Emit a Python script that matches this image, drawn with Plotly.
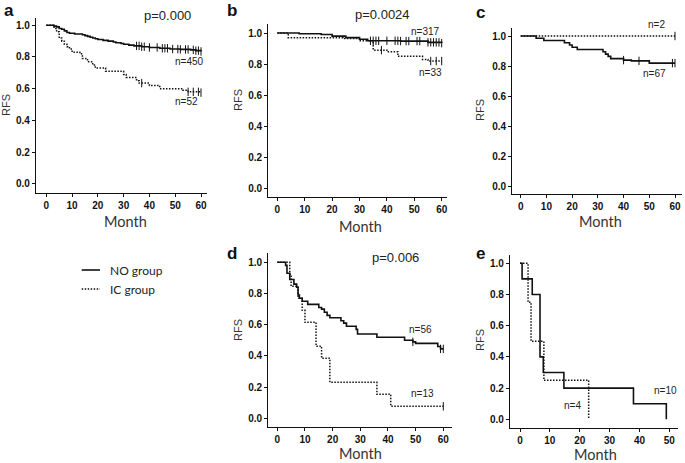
import plotly.graph_objects as go

# ---------------- data ----------------
# Panel a
a_no_t = [0, 3, 4, 5, 6, 7, 8, 9, 11, 14, 15, 16, 17, 18, 19, 20, 22, 24, 26, 27, 29, 30, 32, 34, 37, 40, 44, 48, 52, 56, 58, 60]
a_no_s = [1.0, 0.995, 0.99, 0.98, 0.975, 0.965, 0.955, 0.95, 0.945, 0.94, 0.935, 0.93, 0.925, 0.92, 0.915, 0.91, 0.905, 0.90, 0.895, 0.89, 0.885, 0.88, 0.875, 0.87, 0.865, 0.86, 0.855, 0.85, 0.848, 0.845, 0.84, 0.835]
a_no_c = [35, 36, 37, 38, 40, 43, 45, 46, 47, 49, 51, 52, 54, 55, 57, 58, 59, 60]
a_ic_t = [0, 3, 4, 5, 6, 7, 8, 9, 10, 13, 14, 16, 18, 19, 23, 30, 31, 35, 36, 40, 44, 53, 55, 60]
a_ic_s = [1.0, 0.98, 0.96, 0.92, 0.90, 0.88, 0.865, 0.85, 0.83, 0.82, 0.79, 0.77, 0.75, 0.73, 0.71, 0.69, 0.67, 0.65, 0.635, 0.62, 0.60, 0.59, 0.58, 0.575]
a_ic_c = [37, 55, 57, 59, 60]

# Panel b
b_no_t = [0, 8, 16, 20, 25, 30, 33, 45, 55, 60]
b_no_s = [1.0, 0.995, 0.99, 0.98, 0.97, 0.96, 0.95, 0.948, 0.94, 0.935]
b_no_c = [34, 35, 36, 37, 40, 43, 44, 45, 47, 48, 51, 52, 55, 56, 57, 58, 59, 60]
b_ic_t = [0, 4, 24, 30, 35, 40, 44, 53, 55, 60]
b_ic_s = [1.0, 0.97, 0.965, 0.95, 0.89, 0.88, 0.85, 0.83, 0.82, 0.82]
b_ic_c = [38, 56, 58, 60]

# Panel c
c_no_t = [0, 6, 9, 17, 19, 20, 22, 32, 33, 34, 35, 40, 43, 50, 60]
c_no_s = [1.0, 0.985, 0.97, 0.955, 0.94, 0.925, 0.91, 0.895, 0.88, 0.865, 0.85, 0.84, 0.835, 0.82, 0.82]
c_no_c = [40, 46, 59, 60]
c_ic_t = [0, 60]
c_ic_s = [1.0, 1.0]
c_ic_c = [60]

# Panel d
d_no_t = [0, 3, 3.5, 4.5, 6, 7, 7.5, 8, 9, 11, 15, 16, 17, 18, 19, 23, 24, 25, 28.5, 29, 36, 46, 49, 50, 58, 59, 60]
d_no_s = [1.0, 0.98, 0.93, 0.89, 0.86, 0.84, 0.79, 0.77, 0.75, 0.73, 0.71, 0.70, 0.68, 0.66, 0.645, 0.625, 0.61, 0.59, 0.57, 0.54, 0.52, 0.50, 0.49, 0.48, 0.46, 0.445, 0.445]
d_no_c = [49, 59, 60]
d_ic_t = [0, 4.5, 5, 7.5, 9, 10, 14, 16, 19, 36, 41, 60]
d_ic_s = [1.0, 0.923, 0.846, 0.769, 0.692, 0.615, 0.462, 0.385, 0.231, 0.154, 0.077, 0.077]
d_ic_c = [60]

# Panel e
e_no_t = [0, 0.7, 4.1, 6.7, 7.8, 14.7, 38, 49]
e_no_s = [1.0, 0.9, 0.8, 0.4, 0.3, 0.2, 0.1, 0.0]
e_ic_t = [0, 2.7, 3.7, 8.0, 23]
e_ic_s = [1.0, 0.75, 0.5, 0.25, 0.0]

p_values = {"a": "p=0.000", "b": "p=0.0024", "d": "p=0.006"}
n_labels = {"a": ["n=450", "n=52"], "b": ["n=317", "n=33"], "c": ["n=67", "n=2"],
            "d": ["n=56", "n=13"], "e": ["n=10", "n=4"]}
group_names = ["NO group", "IC group"]
y_ticks = [0.0, 0.2, 0.4, 0.6, 0.8, 1.0]

# ---------------- layout geometry (pixels) ----------------
W, H = 685, 463


def fx(p):
    return p / W


def fy(p):
    return 1 - p / H


# left, right, top, bottom, x0px, x0val, x1px, x1val, y1px(1.0), y0px(0.0)
geo = {
    "a": (36, 207, 18, 192.7, 46.3, 0, 201, 60, 25.3, 183.7),
    "b": (268.3, 446.7, 24, 196.7, 277.3, 0, 441.7, 60, 33, 188.7),
    "c": (512.3, 681.7, 28.3, 194.3, 520.7, 0, 675, 60, 36, 186.7),
    "d": (268.3, 451.7, 253.3, 426.7, 277.3, 0, 443.3, 60, 262.3, 418.3),
    "e": (510, 678.3, 255, 428.3, 520, 0, 669.3, 50, 263.3, 419.3),
}
xticks = {"a": list(range(0, 61, 10)), "b": list(range(0, 61, 10)), "c": list(range(0, 61, 10)),
          "d": list(range(0, 61, 10)), "e": list(range(0, 51, 10))}

panels = {
    "a": [(a_no_t, a_no_s, a_no_c), (a_ic_t, a_ic_s, a_ic_c)],
    "b": [(b_no_t, b_no_s, b_no_c), (b_ic_t, b_ic_s, b_ic_c)],
    "c": [(c_no_t, c_no_s, c_no_c), (c_ic_t, c_ic_s, c_ic_c)],
    "d": [(d_no_t, d_no_s, d_no_c), (d_ic_t, d_ic_s, d_ic_c)],
    "e": [(e_no_t, e_no_s, []), (e_ic_t, e_ic_s, [])],
}

INK = "#111111"
DOT = "1.5px,1.5px"
tickfont = dict(family="Liberation Sans, Arial, sans-serif", size=10, color=INK, weight="bold")
textfont = "Liberation Sans, Arial, sans-serif"


def step_at(ts, ss, t):
    v = ss[0]
    for ti, si in zip(ts, ss):
        if ti <= t:
            v = si
    return v


fig = go.Figure()
layout = {}
annotations = []

for i, key in enumerate(["a", "b", "c", "d", "e"]):
    left, right, top, bottom, x0p, x0v, x1p, x1v, y1p, y0p = geo[key]
    sx = (x1p - x0p) / (x1v - x0v)
    sy = (y0p - y1p)
    xr = [x0v + (left - x0p) / sx, x0v + (right - x0p) / sx]
    yr = [(y0p - bottom) / sy, (y0p - top) / sy]
    sfx = "" if i == 0 else str(i + 1)
    xa, ya = "x" + sfx, "y" + sfx
    layout["xaxis" + sfx] = dict(domain=[fx(left), fx(right)], range=xr, anchor=ya,
                                 showline=True, linecolor=INK, linewidth=1.2, showgrid=False,
                                 zeroline=False, ticks="outside", ticklen=3, tickwidth=1,
                                 tickcolor=INK, tickvals=xticks[key], tickfont=tickfont,
                                 fixedrange=True)
    layout["yaxis" + sfx] = dict(domain=[fy(bottom), fy(top)], range=yr, anchor=xa,
                                 showline=True, linecolor=INK, linewidth=1.2, showgrid=False,
                                 zeroline=False, ticks="outside", ticklen=3, tickwidth=1,
                                 tickcolor=INK, tickvals=y_ticks, tickformat=".1f",
                                 tickfont=tickfont, fixedrange=True)
    for g, (ts, ss, cs) in enumerate(panels[key]):
        dash = "solid" if g == 0 else DOT
        fig.add_trace(go.Scatter(x=ts, y=ss, mode="lines", line_shape="hv",
                                 line=dict(color=INK, width=1.6 if g == 0 else 1.5, dash=dash),
                                 xaxis=xa, yaxis=ya, showlegend=False, name=group_names[g],
                                 hoverinfo="skip"))
        if cs:
            fig.add_trace(go.Scatter(x=cs, y=[step_at(ts, ss, c) for c in cs], mode="markers",
                                     marker=dict(symbol="line-ns-open", size=6, color=INK,
                                                 line=dict(color=INK, width=1)),
                                     xaxis=xa, yaxis=ya, showlegend=False, hoverinfo="skip"))

# panel letters (top of text box)
letter_pos = {"a": (9, 0), "b": (232, 0), "c": (480, 2), "d": (232, 243), "e": (480, 243)}
for k, (px, py) in letter_pos.items():
    annotations.append(dict(text=k, x=fx(px), y=fy(py), xref="paper", yref="paper",
                            showarrow=False, xanchor="center", yanchor="top", borderpad=0,
                            font=dict(family=textfont, size=17, color=INK, weight="bold")))

# Month labels
month_pos = {"a": (125, 222), "b": (360, 226), "c": (600, 222), "d": (360, 453), "e": (595, 454)}
for k, (px, py) in month_pos.items():
    annotations.append(dict(text="Month", x=fx(px), y=fy(py), xref="paper", yref="paper",
                            showarrow=False, xanchor="center", yanchor="middle", borderpad=0,
                            font=dict(family="Lato, sans-serif", size=14.5, color="#333333")))

# RFS labels
rfs_pos = {"a": (6, 105), "b": (238, 100), "c": (480, 110), "d": (238, 330), "e": (480, 340)}
for k, (px, py) in rfs_pos.items():
    annotations.append(dict(text="RFS", x=fx(px), y=fy(py), xref="paper", yref="paper",
                            showarrow=False, xanchor="center", yanchor="middle", textangle=-90,
                            font=dict(family=textfont, size=11, color="#333333")))

# p values
p_pos = {"a": (167, 16), "b": (382, 15), "d": (395, 257)}
for k, (px, py) in p_pos.items():
    annotations.append(dict(text=p_values[k], x=fx(px), y=fy(py), xref="paper", yref="paper",
                            showarrow=False, xanchor="center", yanchor="middle",
                            font=dict(family=textfont, size=13, color="#222222")))

# n labels
n_pos = {"a": [(189, 61), (186, 102)], "b": [(426, 32), (430, 72)], "c": [(654, 73), (656, 25)],
         "d": [(420, 329), (422, 393)], "e": [(665, 390), (572, 405)]}
for k, plist in n_pos.items():
    for txt, (px, py) in zip(n_labels[k], plist):
        annotations.append(dict(text=txt, x=fx(px), y=fy(py), xref="paper", yref="paper",
                                showarrow=False, xanchor="center", yanchor="middle",
                                font=dict(family=textfont, size=10, color="#222222")))

# legend (drawn manually)
shapes = []
for g, py in enumerate([270, 289]):
    shapes.append(dict(type="line", xref="paper", yref="paper", x0=fx(81.7), x1=fx(100),
                       y0=fy(py), y1=fy(py),
                       line=dict(color=INK, width=1.6 if g == 0 else 1.5,
                                 dash="solid" if g == 0 else DOT)))
    annotations.append(dict(text=group_names[g], x=fx(108), y=fy(py), xref="paper", yref="paper",
                            showarrow=False, xanchor="left", yanchor="middle",
                            font=dict(family="Lato, sans-serif", size=12, color="#222222")))

fig.update_layout(width=W, height=H, margin=dict(l=0, r=0, t=0, b=0),
                  paper_bgcolor="white", plot_bgcolor="white",
                  annotations=annotations, shapes=shapes, showlegend=False, **layout)

fig.write_html("out.html", config={"displayModeBar": False},
               post_script="document.body.style.margin='0';document.body.style.padding='0';")
